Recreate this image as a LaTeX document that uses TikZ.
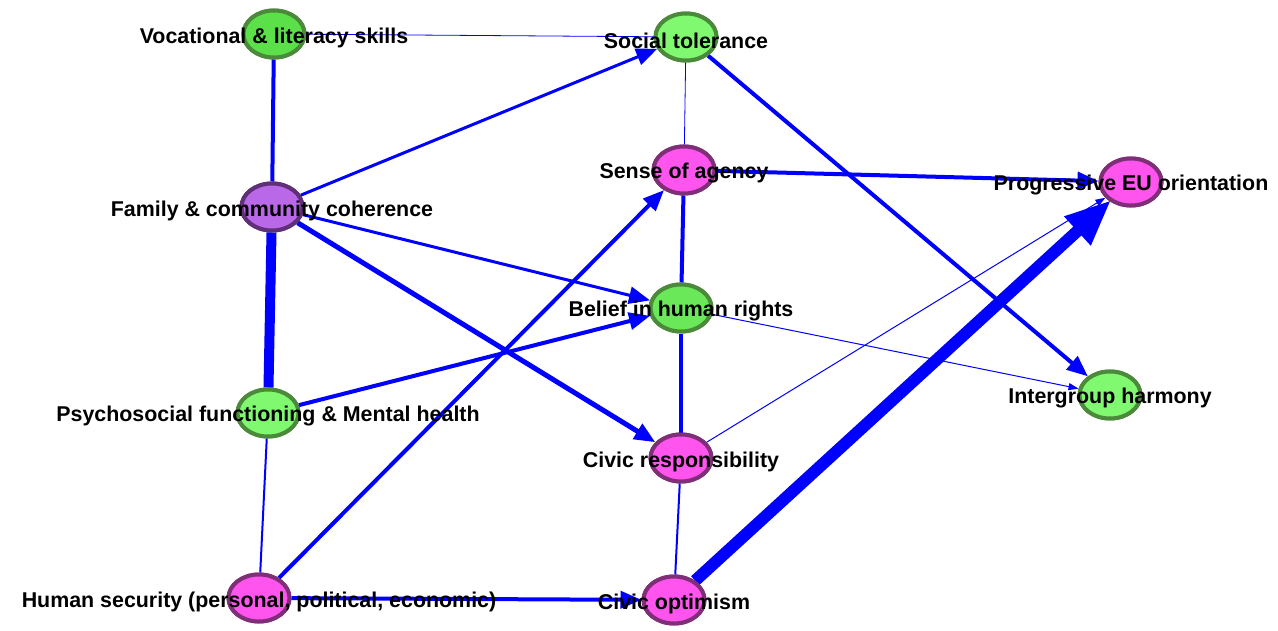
\documentclass[tikz,border=0pt]{standalone}
\usepackage{fontspec}
\setmainfont{Liberation Sans}
\usetikzlibrary{arrows.meta,shapes.geometric}
\definecolor{gfill}{HTML}{80F870}
\definecolor{gfillb}{HTML}{5CE04A}
\definecolor{gfillc}{HTML}{6AE85A}
\definecolor{gline}{HTML}{4A8A3A}
\definecolor{pfill}{HTML}{FF55EE}
\definecolor{pline}{HTML}{7F2F78}
\definecolor{vfill}{HTML}{B968E8}
\definecolor{vline}{HTML}{5F2F78}
\definecolor{edge}{HTML}{0000FF}
\tikzset{
  x=1pt, y=-1pt,
  vtx/.style={ellipse, draw, line width=4pt, minimum width=61pt, minimum height=47pt, inner sep=0pt},
  green/.style={vtx, fill=gfill, draw=gline},
  pink/.style={vtx, fill=pfill, draw=pline},
  lbl/.style={font=\bfseries\fontsize{21.4}{24}\selectfont, text=black, inner sep=0pt, anchor=center, yshift=-3.5pt},
  link/.style={draw=edge, line width=#1},
  thinarr/.style={draw=edge, line width=1pt, -{Triangle[length=10pt,width=7pt]}},
  midarr/.style={draw=edge, line width=#1, -{Triangle[length=21pt,width=17pt]}},
  bigarr/.style={draw=edge, line width=12pt, -{Triangle[length=46pt,width=36pt]}, shorten >=-2pt},
}
\begin{document}
\begin{tikzpicture}
\useasboundingbox (0,0) rectangle (1278,631);
\fill[white] (0,0) rectangle (1278,631);

% factor nodes
\node[vtx, fill=gfillb, draw=gline] (voc) at (274,34) {};
\node[green] (tol) at (686,37) {};
\node[pink] (agency) at (684,170) {};
\node[pink] (eu) at (1131,182) {};
\node[vtx, fill=vfill, draw=vline] (fam) at (272,207) {};
\node[vtx, fill=gfillc, draw=gline] (rights) at (681,308) {};
\node[green] (harm) at (1110,395) {};
\node[green] (psy) at (268,413) {};
\node[pink] (resp) at (681,458) {};
\node[pink] (sec) at (259,598) {};
\node[pink] (opt) at (674,600) {};

% paths between factors
\draw[link=0.8pt] (voc) -- (tol);
\draw[link=4pt] (voc) -- (fam);
\draw[midarr=3pt] (fam) -- (tol);
\draw[midarr=3pt] (fam) -- (rights);
\draw[midarr=5pt] (fam) -- (resp);
\draw[link=10pt] (fam) -- (psy);
\draw[midarr=4pt] (psy) -- (rights);
\draw[link=2pt] (psy) -- (sec);
\draw[midarr=4pt] (sec) -- (agency);
\draw[midarr=4pt] (sec) -- (opt);
\draw[link=0.8pt] (tol) -- (agency);
\draw[midarr=4pt] (tol) -- (harm);
\draw[midarr=4pt] (agency) -- (eu);
\draw[link=4pt] (agency) -- (rights);
\draw[thinarr] (rights) -- (harm);
\draw[link=4pt] (rights) -- (resp);
\draw[thinarr] (resp) -- (eu);
\draw[link=2pt] (resp) -- (opt);
\draw[bigarr] (opt) -- (eu);

% redraw nodes above the paths
\node[vtx, fill=gfillb, draw=gline] at (voc) {};
\node[green] at (tol) {};
\node[pink] at (agency) {};
\node[pink] at (eu) {};
\node[vtx, fill=vfill, draw=vline] at (fam) {};
\node[vtx, fill=gfillc, draw=gline] at (rights) {};
\node[green] at (harm) {};
\node[green] at (psy) {};
\node[pink] at (resp) {};
\node[pink] at (sec) {};
\node[pink] at (opt) {};

% labels on top
\node[lbl] (voc-l) at (voc) {Vocational \& literacy skills};
\node[lbl] (tol-l) at (tol) {Social tolerance};
\node[lbl] (agency-l) at (agency) {Sense of agency};
\node[lbl] (eu-l) at (eu) {Progressive EU orientation};
\node[lbl] (fam-l) at (fam) {Family \& community coherence};
\node[lbl] (rights-l) at (rights) {Belief in human rights};
\node[lbl] (harm-l) at (harm) {Intergroup harmony};
\node[lbl] (psy-l) at (psy) {Psychosocial functioning \& Mental health};
\node[lbl] (resp-l) at (resp) {Civic responsibility};
\node[lbl] (sec-l) at (sec) {Human security (personal, political, economic)};
\node[lbl] (opt-l) at (opt) {Civic optimism};
\end{tikzpicture}
\end{document}
